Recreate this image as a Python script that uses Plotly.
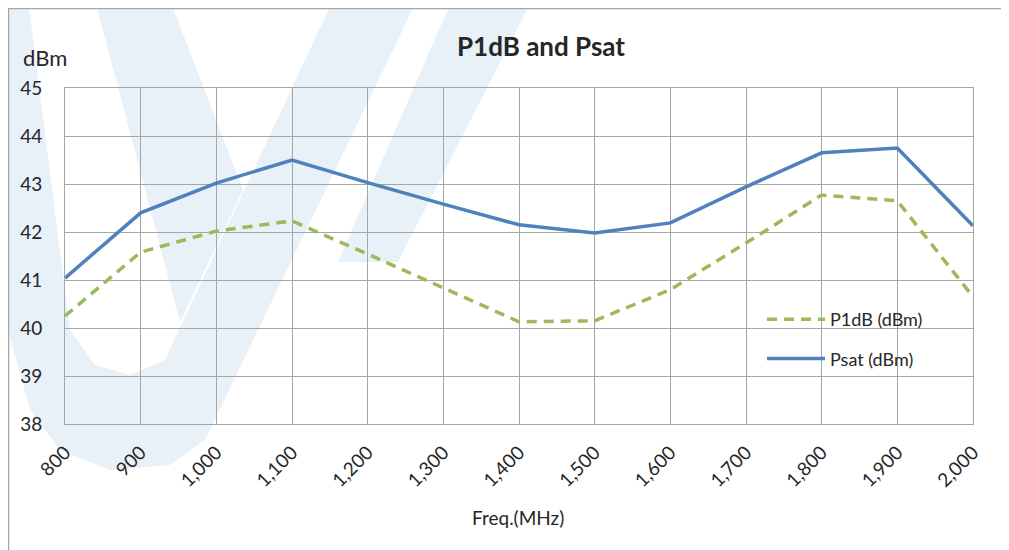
import plotly.graph_objects as go

freq = [800, 900, 1000, 1100, 1200, 1300, 1400, 1500, 1600, 1700, 1800, 1900, 2000]
p1db = [40.25, 41.58, 42.02, 42.23, 41.54, 40.83, 40.13, 40.15, 40.80, 41.77, 42.77, 42.65, 40.65]
psat = [41.04, 42.40, 43.02, 43.50, 43.03, 42.58, 42.15, 41.98, 42.19, 42.94, 43.65, 43.75, 42.13]
x_ticks = freq
x_tick_labels = ["800", "900", "1,000", "1,100", "1,200", "1,300", "1,400", "1,500",
                 "1,600", "1,700", "1,800", "1,900", "2,000"]
y_ticks = [38, 39, 40, 41, 42, 43, 44, 45]

OFF = 8  # page body margin
W, H = 1009 - OFF, 550 - OFF
L, R, T, B = 65 - OFF, 973 - OFF, 88 - OFF, 424 - OFF
FONT = "Lato, 'Open Sans', sans-serif"


def px(x):  # screen px -> paper
    return (x - OFF - L) / (R - L)


def py(y):
    return (B - (y - OFF)) / (B - T)


def path(points):
    return "M " + " L ".join(f"{px(a):.4f},{py(b):.4f}" for a, b in points) + " Z"


fig = go.Figure()
fig.add_trace(go.Scatter(x=freq, y=p1db, mode="lines", name="P1dB (dBm)",
                         line=dict(color="#9bbb59", width=3.5, dash="10px,7px"),
                         legendgroup="a"))
fig.add_trace(go.Scatter(x=freq, y=psat, mode="lines", name="Psat (dBm)",
                         line=dict(color="#4f81bd", width=3.5),
                         legendgroup="b"))

wm = "#e8f0f8"
shapes = []
# faint watermark logo (approximate)
for pts in [
    [(0, 0), (28, 0), (70, 330), (95, 365), (130, 375), (165, 360), (333, 0), (417, 0),
     (205, 440), (170, 465), (110, 470), (60, 450), (30, 410), (0, 300)],
    [(95, 0), (170, 0), (243, 190), (180, 322)],
    [(452, 0), (532, 0), (398, 262), (338, 262)],
]:
    shapes.append(dict(type="path", xref="paper", yref="paper", path=path(pts),
                       fillcolor=wm, line=dict(width=0), layer="below"))
# chart border
shapes.append(dict(type="path", xref="paper", yref="paper",
                   path=f"M {px(8.5):.4f},{py(560):.4f} L {px(8.5):.4f},{py(8.5):.4f} L {px(1015):.4f},{py(8.5):.4f}",
                   line=dict(color="#a6a6a6", width=1.5), layer="above"))

fig.update_layout(
    width=W, height=H,
    margin=dict(l=L, r=W - R, t=T, b=H - B),
    paper_bgcolor="white",
    plot_bgcolor="rgba(0,0,0,0)",
    font=dict(family=FONT, size=16, color="#262626"),
    shapes=shapes,
    showlegend=True,
    legend=dict(x=px(762), y=py(301), xanchor="left", yanchor="top",
                bgcolor="rgba(0,0,0,0)", font=dict(size=18, color="#262626"),
                tracegroupgap=13, itemwidth=58),
    annotations=[
        dict(text="<b>P1dB and Psat</b>", x=px(541), y=py(46), xref="paper", yref="paper",
             showarrow=False, font=dict(size=26, color="#262626"), xanchor="center", yanchor="middle"),
        dict(text="dBm", x=px(21), y=py(57), xref="paper", yref="paper",
             showarrow=False, font=dict(size=22, color="#262626"), xanchor="left", yanchor="middle"),
        dict(text="Freq.(MHz)", x=px(518), y=py(518), xref="paper", yref="paper",
             showarrow=False, font=dict(size=19, color="#262626"), xanchor="center", yanchor="middle"),
    ],
)
fig.update_xaxes(range=[800, 2000], tickvals=x_ticks, ticktext=x_tick_labels, tickangle=-45,
                 showgrid=True, gridcolor="#a6a6a6", gridwidth=1,
                 showline=True, linecolor="#a6a6a6", linewidth=1, mirror=True,
                 ticks="outside", ticklen=9, tickcolor="rgba(0,0,0,0)",
                 tickfont=dict(size=19, color="#262626"), zeroline=False)
fig.update_yaxes(range=[38, 45], tickvals=y_ticks,
                 showgrid=True, gridcolor="#a6a6a6", gridwidth=1,
                 showline=True, linecolor="#a6a6a6", linewidth=1, mirror=True,
                 ticks="outside", ticklen=18, tickcolor="rgba(0,0,0,0)",
                 tickfont=dict(size=19, color="#262626"), zeroline=False)

fig.write_html("out.html")
